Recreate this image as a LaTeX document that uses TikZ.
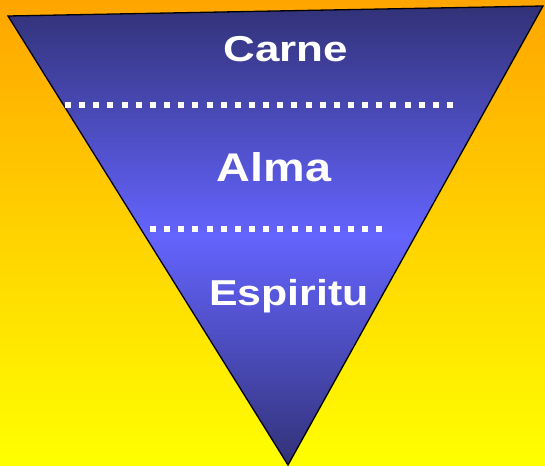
\documentclass[tikz,border=0pt]{standalone}
\usepackage{fontspec}
\usepackage{xcolor}
\usepackage{tikz}
\newfontfamily\layerfont{Liberation Sans}
\definecolor{bgtop}{RGB}{255,165,0}
\definecolor{bgbottom}{RGB}{255,255,0}
\definecolor{trdark}{RGB}{50,50,120}
\definecolor{trlight}{RGB}{100,100,255}

\begin{document}
\begin{tikzpicture}[x=1pt, y=-1pt,
    layer/.style={text=white, anchor=base, inner sep=0pt, font=\layerfont\bfseries\fontsize{36}{40}\selectfont},
    divider/.style={white, line width=6pt, dash pattern=on 6pt off 8.15pt}]
        \useasboundingbox (0,0) rectangle (545,465);
        \shade[top color=bgtop, bottom color=bgbottom] (0,0) rectangle (545,465);

        \shade[draw=black, line width=1.3pt, line join=miter, top color=trdark, bottom color=trdark, middle color=trlight] (8,16) -- (543,6) -- (288,465) -- cycle;

        \node[layer] (carne) at (286,62) {\scalebox{1.22}[1]{Carne}};
        \node[layer, font=\layerfont\bfseries\fontsize{40}{44}\selectfont] (alma) at (274,181) {\scalebox{1.17}[1]{Alma}};
        \node[layer] (espiritu) at (289,305) {\scalebox{1.19}[1]{Espiritu}};

        \coordinate (d1a) at (65,105);
        \coordinate (d1b) at (453.1,105);
        \coordinate (d2a) at (150,229);
        \coordinate (d2b) at (382.4,229);
        \draw[divider] (d1a) -- (d1b);
        \draw[divider] (d2a) -- (d2b);
    \end{tikzpicture}
\end{document}
